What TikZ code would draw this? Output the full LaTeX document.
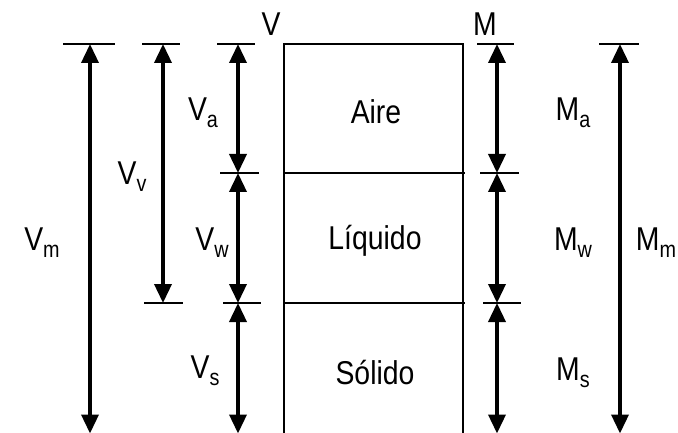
\documentclass[tikz,border=0pt]{standalone}
\usepackage{fontspec}
\setmainfont{Liberation Sans}
\usetikzlibrary{arrows.meta}
\newcommand{\lbl}[1]{\scalebox{0.86}[1]{#1}}
\newcommand{\sbs}[1]{\raisebox{-0.22em}{\fontsize{23}{23}\selectfont #1}}
\begin{document}
\begin{tikzpicture}[x=1pt,y=-1pt,
  dim/.style={line width=3.6pt,{Triangle[width=17pt,length=19pt]}-{Triangle[width=17pt,length=19pt]}},
  tick/.style={line width=1.4pt},
  boxline/.style={line width=1.4pt},
  txt/.style={inner sep=0pt,font=\fontsize{33}{38}\selectfont}]
\useasboundingbox[fill=white] (0,0) rectangle (678,433);
% levels
\def\yt{44}\def\ya{173}\def\yb{303}\def\yc{433.5}
% box
\coordinate (bTL) at (284,\yt); \coordinate (bTR) at (463,\yt);
\coordinate (bBL) at (284,\yc); \coordinate (bBR) at (463,\yc);
\coordinate (bAL) at (284,\ya); \coordinate (bAR) at (465,\ya);
\coordinate (bSL) at (284,\yb); \coordinate (bSR) at (465,\yb);
\draw[boxline] (bBL) -- (bTL) -- (bTR) -- (bBR);
\draw[boxline] (bAL) -- (bAR);
\draw[boxline] (bSL) -- (bSR);
% dimension points
\coordinate (vmT) at (90,\yt);  \coordinate (vmB) at (90,\yc);
\coordinate (vvT) at (163,\yt); \coordinate (vvB) at (163,\yb);
\coordinate (vT) at (238,\yt);  \coordinate (vA) at (238,\ya);
\coordinate (vS) at (238,\yb);  \coordinate (vB) at (238,\yc);
\coordinate (mT) at (497,\yt);  \coordinate (mA) at (497,\ya);
\coordinate (mS) at (497,\yb);  \coordinate (mB) at (497,\yc);
\coordinate (mmT) at (620,\yt); \coordinate (mmB) at (620,\yc);
% ticks
\draw[tick] (63,\yt) -- (115,\yt);
\draw[tick] (63,\yc) -- (115,\yc);
\draw[tick] (142,\yt) -- (180,\yt);
\draw[tick] (144,\yb) -- (183,\yb);
\draw[tick] (217,\yt) -- (255,\yt);
\draw[tick] (220,\ya) -- (259,\ya);
\draw[tick] (223,\yb) -- (261,\yb);
\draw[tick] (219,\yc) -- (258,\yc);
\draw[tick] (477,\yt) -- (514,\yt);
\draw[tick] (480,\ya) -- (519,\ya);
\draw[tick] (483,\yb) -- (521,\yb);
\draw[tick] (478,\yc) -- (516,\yc);
\draw[tick] (599,\yt) -- (639,\yt);
\draw[tick] (600,\yc) -- (640,\yc);
% arrows
\draw[dim] (vmT) -- (vmB);
\draw[dim] (vvT) -- (vvB);
\draw[dim] (vT) -- (vA);
\draw[dim] (vA) -- (vS);
\draw[dim] (vS) -- (vB);
\draw[dim] (mT) -- (mA);
\draw[dim] (mA) -- (mS);
\draw[dim] (mS) -- (mB);
\draw[dim] (mmT) -- (mmB);
% labels
\node[txt] (lV) at (271,24) {\lbl{V}};
\node[txt] (lM) at (485,24) {\lbl{M}};
\node[txt] (aire) at (376,112) {\lbl{Aire}};
\node[txt] (liq) at (375,241) {\lbl{Líquido}};
\node[txt] (sol) at (375,373) {\lbl{Sólido}};
\node[txt] (Va) at (203,113) {\lbl{V\sbs{a}}};
\node[txt] (Vv) at (132,177) {\lbl{V\sbs{v}}};
\node[txt] (Vm) at (42,243) {\lbl{V\sbs{m}}};
\node[txt] (Vw) at (212,243) {\lbl{V\sbs{w}}};
\node[txt] (Vs) at (205,371) {\lbl{V\sbs{s}}};
\node[txt] (Ma) at (573,113) {\lbl{M\sbs{a}}};
\node[txt] (Mw) at (573,243) {\lbl{M\sbs{w}}};
\node[txt] (Ms) at (573,373) {\lbl{M\sbs{s}}};
\node[txt] (Mm) at (656,243) {\lbl{M\sbs{m}}};
\end{tikzpicture}
\end{document}
